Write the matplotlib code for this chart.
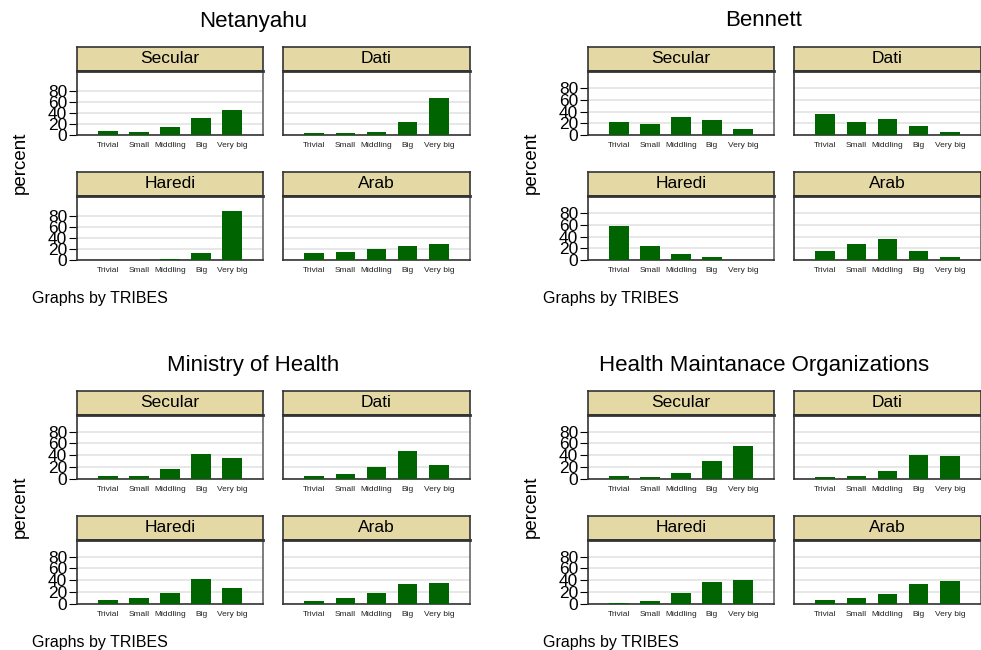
import matplotlib.pyplot as plt

plt.rcParams['font.family'] = ['Liberation Sans', 'DejaVu Sans']

categories = ['Trivial', 'Small', 'Middling', 'Big', 'Very big']
tribes = ['Secular', 'Dati', 'Haredi', 'Arab']

# percent per tribe, in the order of `tribes`
netanyahu = [[7, 5, 14.5, 31, 45],
             [3, 3, 5, 24, 67],
             [0, 0, 1, 12, 89],
             [12, 14, 21, 25, 29]]
bennett = [[22, 18.5, 30.5, 25.5, 10],
           [35.5, 22, 27, 15, 5],
           [58.5, 24.5, 11, 4.5, 0],
           [16, 28, 35, 16, 5]]
ministry = [[4.5, 4.5, 16.5, 42, 35],
            [4.5, 8, 20, 47, 23],
            [6, 9.7, 18, 42, 26.7],
            [4.5, 9.7, 18, 33, 35]]
hmo = [[4.5, 3, 9.7, 30, 55.7],
       [3, 4.5, 13, 40, 38],
       [1.5, 4.5, 18, 37, 40],
       [6, 9.7, 16.5, 33, 38]]

titles = ['Netanyahu', 'Bennett', 'Ministry of Health', 'Health Maintanace Organizations']
charts = [netanyahu, bennett, ministry, hmo]
ytops = [117, 109, 108, 108]

W, H = 981, 650
fig = plt.figure(figsize=(W / 100, H / 100), dpi=100)


def px_axes(x0, y0, x1, y1):
    return fig.add_axes([x0 / W, 1 - y1 / H, (x1 - x0) / W, (y1 - y0) / H])


offsets = [(0, 0), (511, 0), (0, 344), (511, 344)]
cols = [(77, 263), (283, 470)]
rows = [(47, 71, 135), (172, 196, 260)]

for g, (dx, dy) in enumerate(offsets):
    fig.text((253 + dx) / W, 1 - (21 + dy) / H, titles[g], ha='center', va='center', fontsize=16)
    fig.text((20 + dx) / W, 1 - (163 + dy) / H, 'percent', ha='center', va='center',
             rotation=90, fontsize=13.5)
    fig.text((32 + dx) / W, 1 - (299 + dy) / H, 'Graphs by TRIBES', ha='left', va='center',
             fontsize=11.5)
    for k, tribe in enumerate(tribes):
        r, c = divmod(k, 2)
        x0, x1 = cols[c]
        s0, p0, p1 = rows[r]
        # strip with the tribe name
        sax = px_axes(x0 + dx, s0 + dy, x1 + dx, p0 + dy)
        sax.set_facecolor('#E4D8A4')
        sax.set_xticks([])
        sax.set_yticks([])
        for sp in sax.spines.values():
            sp.set_color('#333333')
            sp.set_linewidth(1.2)
        sax.text(0.5, 0.52, tribe, ha='center', va='center', fontsize=12.5, transform=sax.transAxes)

        ax = px_axes(x0 + dx, p0 + dy, x1 + dx, p1 + dy)
        xs = range(1, len(categories) + 1)
        ax.bar(xs, charts[g][k], width=0.63, color='#006400', zorder=3)
        ax.set_xlim(0, 6)
        ax.set_ylim(0, ytops[g])
        ax.set_xticks(list(xs))
        ax.set_xticklabels(categories, fontsize=6, color='#222222')
        ax.tick_params(axis='x', length=0, pad=5)
        ax.set_yticks([0, 20, 40, 60, 80])
        ax.grid(axis='y', color='#E3E3E3', linewidth=1.2, zorder=0)
        if c == 0:
            ax.tick_params(axis='y', length=6, width=0.8, labelsize=12.5, pad=1)
        else:
            ax.tick_params(axis='y', length=0, labelleft=False)
        for name, sp in ax.spines.items():
            sp.set_color('#333333')
            sp.set_linewidth(1.2)
        ax.spines['top'].set_linewidth(2)
        ax.spines['right'].set_color('#666666')

fig.savefig('out.png', dpi=100)
